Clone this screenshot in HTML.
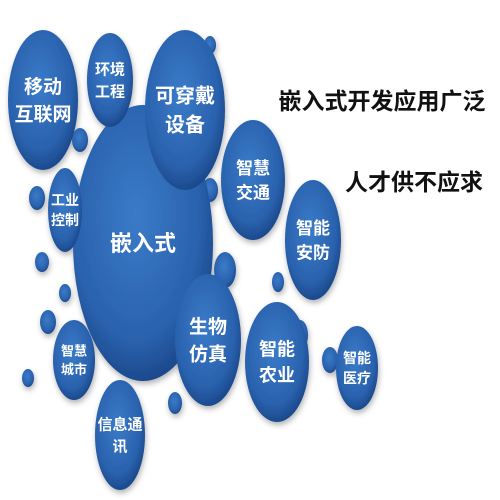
<!DOCTYPE html>
<html><head><meta charset="utf-8"><style>
body{margin:0;width:500px;height:500px;overflow:hidden;background:#fff}
svg{display:block}
text{font-family:"Liberation Sans","Noto Sans CJK SC",sans-serif;font-weight:bold}
</style></head><body>
<svg width="500" height="500">
<defs>
<radialGradient id="g" cx="45%" cy="40%" r="60%">
<stop offset="0" stop-color="#3a7bc8"/><stop offset="0.75" stop-color="#2a62ae"/><stop offset="1" stop-color="#1c4a8e"/>
</radialGradient>
<filter id="s" x="-20%" y="-20%" width="140%" height="140%"><feDropShadow dx="1" dy="3" stdDeviation="3" flood-color="#000" flood-opacity="0.3"/></filter>
</defs>
<g id="bubbles" filter="url(#s)"></g>
<g id="labels"></g>
<text x="382" y="109" font-size="23" text-anchor="middle" fill="#111" font-weight="normal">嵌入式开发应用广泛</text>
<text x="414" y="190" font-size="23" text-anchor="middle" fill="#111" font-weight="normal">人才供不应求</text>
</svg>
<script>
const bubbleNames=['embedded','mobile-internet','environment-engineering','wearable-devices','industrial-control','smart-traffic','smart-security','bio-simulation','smart-agriculture','smart-medical','smart-city','info-communication'];
const bubbleLabels=[['嵌入式'],['移动','互联网'],['环境','工程'],['可穿戴','设备'],['工业','控制'],['智慧','交通'],['智能','安防'],['生物','仿真'],['智能','农业'],['智能','医疗'],['智慧','城市'],['信息通','讯']];
const bubbleGeom=[[143,243,70,138,22],[43,100,35,70,19],[110,80,23,47,15],[185,110,40,80,20],[65,210,17,42,14],[253,180,32,60,17],[313,240,28,60,17],[208,340,33,66,19],[277,362,32,60,18],[357,368,21,42,14],[74,360,21,40,13],[120,435,25,55,15]];
const dots=[[80,140,8,12],[37,198,8,12],[42,262,7,10],[65,293,6,9],[48,322,8,12],[28,378,6,9],[175,403,7,11],[225,270,11,18],[278,282,6,10],[300,335,8,15],[330,360,8,13],[210,190,8,12],[125,150,6,10],[140,178,6,10],[90,200,6,9],[210,45,6,9]];
const NS='http://www.w3.org/2000/svg';
const bg=document.getElementById('bubbles'),lg=document.getElementById('labels');
dots.forEach(d=>{const e=document.createElementNS(NS,'ellipse');
e.setAttribute('cx',d[0]);e.setAttribute('cy',d[1]);e.setAttribute('rx',d[2]);e.setAttribute('ry',d[3]);e.setAttribute('fill','url(#g)');


bg.appendChild(e);});
bubbleGeom.forEach((b,i)=>{const e=document.createElementNS(NS,'ellipse');
e.setAttribute('cx',b[0]);e.setAttribute('cy',b[1]);e.setAttribute('rx',b[2]);e.setAttribute('ry',b[3]);e.setAttribute('fill','url(#g)');


bg.appendChild(e);
const lines=bubbleLabels[i],fs=b[4],lh=fs*1.45;
lines.forEach((l,j)=>{const t=document.createElementNS(NS,'text');
t.setAttribute('x',b[0]);t.setAttribute('y',b[1]+(j-(lines.length-1)/2)*lh+fs*0.36);
t.setAttribute('font-size',fs);t.setAttribute('fill','#fff');t.setAttribute('text-anchor','middle');
t.textContent=l;


lg.appendChild(t);});});
</script>
</body></html>
